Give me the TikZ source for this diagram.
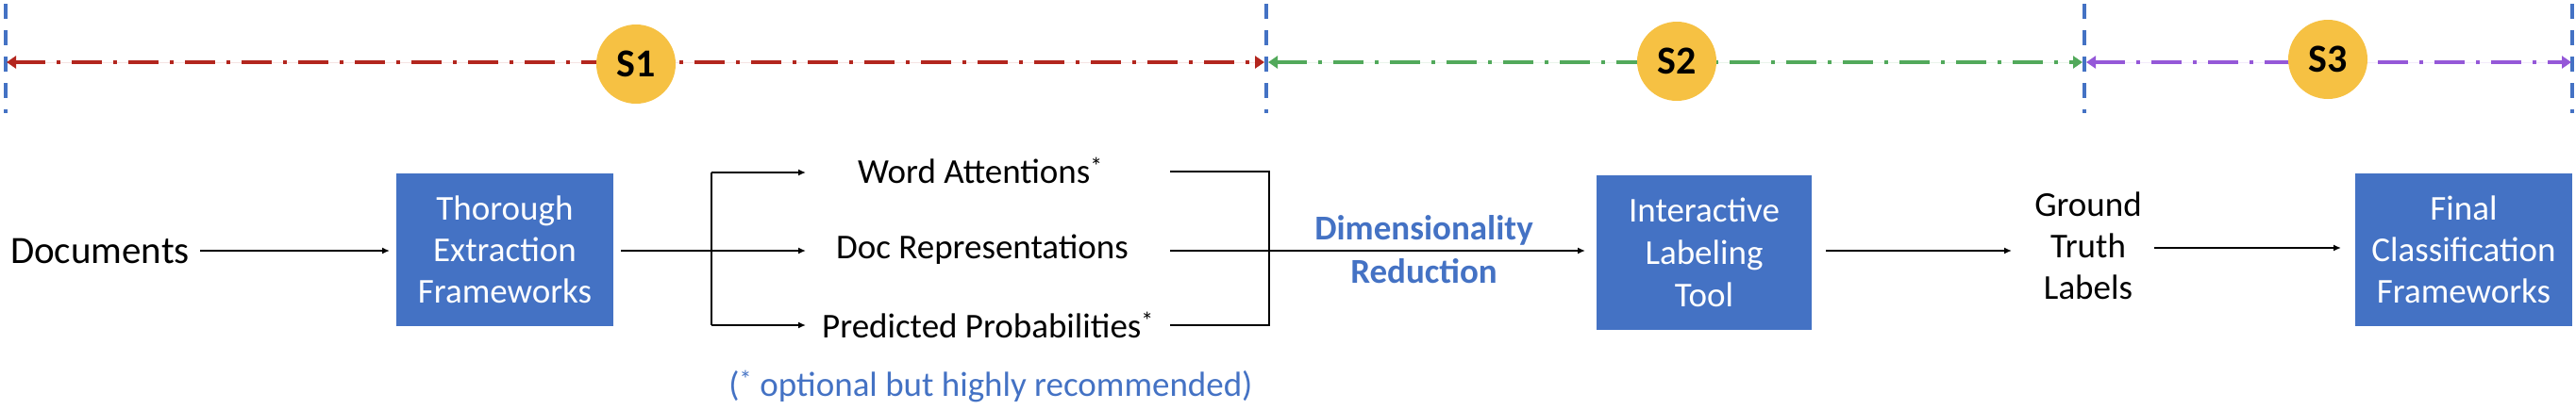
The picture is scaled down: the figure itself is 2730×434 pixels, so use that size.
\documentclass[tikz,border=0pt]{standalone}
\usepackage{fontspec}
\setmainfont{Carlito}
\usetikzlibrary{arrows.meta,calc}
\definecolor{boxblue}{HTML}{4472C4}
\definecolor{gold}{HTML}{F6C143}
\definecolor{phred}{HTML}{B3261E}
\definecolor{phgreen}{HTML}{52A95B}
\definecolor{phpurple}{HTML}{9558D8}
\tikzset{
  procbox/.style={fill=boxblue, text=white, minimum width=230pt, minimum height=162pt,
    align=center, inner sep=0pt, font=\fontsize{37}{44}\selectfont},
  lbl/.style={align=center, inner sep=0pt, font=\fontsize{37}{44}\selectfont},
  conn/.style={line width=2pt, -{Latex[length=8pt,width=7pt]}},
  seg/.style={line width=2pt},
  phase/.style={line width=4pt, dash pattern=on 32pt off 12pt on 4pt off 12pt,
    {Triangle[length=10pt,width=13pt]}-{Triangle[length=10pt,width=13pt]}},
  divider/.style={draw=boxblue, line width=4pt, dash pattern=on 16pt off 12pt},
  badge/.style={circle, fill=gold, minimum size=84pt, inner sep=0pt,
    font=\fontsize{42}{42}\selectfont\bfseries},
}
\newcommand{\optmark}{\textsuperscript{*}}
\begin{document}
\begin{tikzpicture}[x=1pt,y=-1pt]
\useasboundingbox (0,0) rectangle (2730,434);
% dividers
\coordinate (d0t) at (6,4);    \coordinate (d0b) at (6,120);
\coordinate (d1t) at (1342,4); \coordinate (d1b) at (1342,120);
\coordinate (d2t) at (2209,4); \coordinate (d2b) at (2209,120);
\coordinate (d3t) at (2726,4); \coordinate (d3b) at (2726,120);
\draw[divider] (d0t) -- (d0b);
\draw[divider] (d1t) -- (d1b);
\draw[divider] (d2t) -- (d2b);
\draw[divider] (d3t) -- (d3b);
% phase arrows
\coordinate (p0) at (7,66);
\coordinate (p1a) at (1340,66);
\coordinate (p1b) at (1344,66);
\coordinate (p2a) at (2207,66);
\coordinate (p2b) at (2211,66);
\coordinate (p3) at (2725,66);
\draw[phase, draw=phred, fill=phred] (p0) -- (p1a);
\draw[phase, draw=phgreen, fill=phgreen] (p1b) -- (p2a);
\draw[phase, draw=phpurple, fill=phpurple] (p2b) -- (p3);
\node[badge] (s1) at (674,68) {S1};
\node[badge] (s2) at (1777,65) {S2};
\node[badge] (s3) at (2467,63) {S3};
% main flow
\node[lbl, font=\fontsize{41}{48}\selectfont] (docs) at (106,266) {Documents};
\node[procbox] (tef) at (535,265) {Thorough\\Extraction\\Frameworks};
\node[lbl] (wa) at (1039,181) {Word Attentions\optmark};
\node[lbl] (dr) at (1041,265) {Doc Representations};
\node[lbl] (pp) at (1047,345) {Predicted Probabilities\optmark};
\node[lbl, text=boxblue] (note) at (1050,410) {(\optmark{} optional but highly recommended)};
\node[lbl, text=boxblue, font=\fontsize{37}{46}\selectfont\bfseries] (dim) at (1509,265) {Dimensionality\\Reduction};
\node[procbox, minimum width=228pt, minimum height=164pt, font=\fontsize{37}{45}\selectfont] (ilt) at (1806,268) {Interactive\\Labeling\\Tool};
\node[lbl] (gtl) at (2213,261) {Ground\\Truth\\Labels};
\node[procbox] (fcf) at (2611,265) {Final\\Classification\\Frameworks};
% connector coordinates
\coordinate (docsend) at (212,266);
\coordinate (tefin) at (413,266);
\coordinate (tefout) at (658,266);
\coordinate (split) at (754,266);
\coordinate (splitt) at (754,183);
\coordinate (splitb) at (754,345);
\coordinate (arrend) at (854,266);
\coordinate (arrendt) at (854,183);
\coordinate (arrendb) at (854,345);
\coordinate (rstart) at (1240,266);
\coordinate (rstartt) at (1240,182);
\coordinate (rstartb) at (1240,345);
\coordinate (rbart) at (1345,182);
\coordinate (rbarb) at (1345,345);
\coordinate (iltin) at (1680,266);
\coordinate (iltout) at (1935,266);
\coordinate (gtlin) at (2132,266);
\coordinate (gtlout) at (2283,263);
\coordinate (fcfin) at (2481,263);
% connectors
\draw[conn] (docsend) -- (tefin);
\draw[seg] (tefout) -- (split);
\draw[seg] (splitt) -- (splitb);
\draw[conn] (splitt) -- (arrendt);
\draw[conn] (split) -- (arrend);
\draw[conn] (splitb) -- (arrendb);
\draw[seg] (rstartt) -- (rbart) -- (rbarb) -- (rstartb);
\draw[conn] (rstart) -- (iltin);
\draw[conn] (iltout) -- (gtlin);
\draw[conn] (gtlout) -- (fcfin);
\end{tikzpicture}
\end{document}
